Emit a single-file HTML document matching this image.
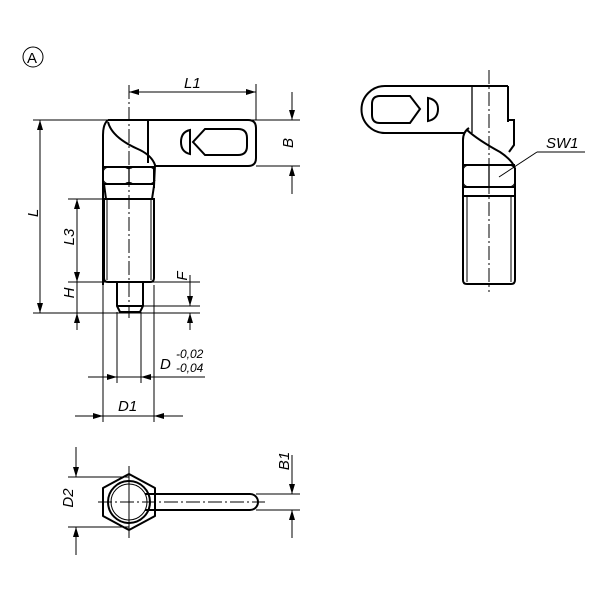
<!DOCTYPE html>
<html><head><style>
html,body{margin:0;padding:0;background:#fff;}
svg{display:block}
text{font-family:"Liberation Sans",sans-serif;font-style:italic;fill:#000}
</style></head><body>
<svg width="600" height="600" viewBox="0 0 600 600" xmlns="http://www.w3.org/2000/svg">
<defs>
<marker id="a" viewBox="0 0 10 6" refX="10" refY="3" markerWidth="10" markerHeight="6" orient="auto" markerUnits="userSpaceOnUse"><path d="M0,0 L10,3 L0,6 z" fill="#000"/></marker>
</defs>
<g fill="none" stroke="#000" stroke-width="1">
<circle cx="33" cy="57" r="10"/>
</g>
<text x="27" y="63" font-size="15" style="font-style:normal">A</text>

<!-- ===== Front view ===== -->
<g fill="none" stroke="#000" stroke-width="2">
 <path d="M108,120 L248,120 Q256,120 256,128 L256,158 Q256,166 248,166 L154,166"/>
 <path d="M108,120 Q103,124 103,135 L103,285"/>
 <line x1="148" y1="120" x2="148" y2="163"/>
 <path d="M108,122 Q112,138 140,150 Q152,156 155,165 L154,186"/>
 <path d="M205,129 L238,129 Q247,129 247,138 L247,146 Q247,155 238,155 L205,155 L193,142 Z"/>
 <path d="M190,130 Q181,132 181,142 Q181,152 190,154 Z"/>
 <line x1="103" y1="167" x2="155" y2="167"/>
 <line x1="103" y1="184" x2="155" y2="184"/>
 <line x1="154" y1="166" x2="154" y2="188"/>
 <path d="M104,184 L106,199 M154,186 L152,199"/>
 <path d="M104,199 L104,278 Q104,282 108,282 L150,282 Q154,282 154,278 L154,199 Z"/>
 <path d="M117,282 L117,306 L120,312 L140,312 L143,306 L143,282"/>
 <line x1="117" y1="306" x2="143" y2="306"/>
</g>
<g fill="none" stroke="#000" stroke-width="1.3">
 <line x1="129" y1="167" x2="129" y2="184"/>
 <path d="M103,171 Q105,167 109,167 M155,171 Q153,167 149,167 M103,180 Q105,184 109,184 M155,180 Q153,184 149,184 M125,167 Q129,170 133,167 M125,184 Q129,181 133,184"/>
</g>
<g fill="none" stroke="#000" stroke-width="1">
 <line x1="107" y1="200" x2="107" y2="280"/>
 <line x1="151" y1="200" x2="151" y2="280"/>
 <line x1="129" y1="85" x2="129" y2="318" stroke-dasharray="14,3,2,3"/>
 <line x1="256" y1="84" x2="256" y2="120"/>
 <line x1="33" y1="120" x2="300" y2="120"/>
 <line x1="256" y1="166" x2="300" y2="166"/>
 <line x1="68" y1="199" x2="104" y2="199"/>
 <line x1="68" y1="282" x2="200" y2="282"/>
 <line x1="33" y1="313" x2="200" y2="313"/>
 <line x1="143" y1="306" x2="200" y2="306"/>
 <line x1="103" y1="285" x2="103" y2="422"/>
 <line x1="117" y1="312" x2="117" y2="383"/>
 <line x1="141" y1="312" x2="141" y2="383"/>
 <line x1="154" y1="285" x2="154" y2="422"/>
 <!-- L1 -->
 <line x1="192" y1="92" x2="129" y2="92" marker-end="url(#a)"/>
 <line x1="192" y1="92" x2="256" y2="92" marker-end="url(#a)"/>
 <!-- B -->
 <line x1="292" y1="92" x2="292" y2="120" marker-end="url(#a)"/>
 <line x1="292" y1="194" x2="292" y2="166" marker-end="url(#a)"/>
 <!-- L -->
 <line x1="40" y1="217" x2="40" y2="120" marker-end="url(#a)"/>
 <line x1="40" y1="217" x2="40" y2="313" marker-end="url(#a)"/>
 <!-- L3 -->
 <line x1="77" y1="240" x2="77" y2="199" marker-end="url(#a)"/>
 <line x1="77" y1="240" x2="77" y2="282" marker-end="url(#a)"/>
 <!-- H -->
 <line x1="77" y1="282" x2="77" y2="313"/>
 <line x1="77" y1="330" x2="77" y2="313" marker-end="url(#a)"/>
 <!-- F -->
 <line x1="190" y1="275" x2="190" y2="306" marker-end="url(#a)"/>
 <line x1="190" y1="330" x2="190" y2="313" marker-end="url(#a)"/>
 <!-- D -->
 <line x1="88" y1="377" x2="117" y2="377" marker-end="url(#a)"/>
 <line x1="205" y1="377" x2="141" y2="377" marker-end="url(#a)"/>
 <line x1="117" y1="377" x2="141" y2="377"/>
 <!-- D1 -->
 <line x1="75" y1="416" x2="103" y2="416" marker-end="url(#a)"/>
 <line x1="183" y1="416" x2="154" y2="416" marker-end="url(#a)"/>
 <line x1="103" y1="416" x2="154" y2="416"/>
</g>
<g font-size="15">
 <text x="184" y="88">L1</text>
 <text x="288" y="148" transform="rotate(-90 288 143)" text-anchor="middle">B</text>
 <text x="37" y="222" transform="rotate(-90 33 217)" text-anchor="middle">L</text>
 <text x="73" y="246" transform="rotate(-90 69 241)" text-anchor="middle">L3</text>
 <text x="73" y="302" transform="rotate(-90 69 297)" text-anchor="middle">H</text>
 <text x="186" y="285" transform="rotate(-90 182 280)" text-anchor="middle">F</text>
 <text x="160" y="369">D</text>
 <text x="176" y="358" font-size="12">-0,02</text>
 <text x="176" y="372" font-size="12">-0,04</text>
 <text x="118" y="411">D1</text>
</g>

<!-- ===== Bottom view ===== -->
<g fill="none" stroke="#000" stroke-width="2">
 <path d="M129,474 L155,488 L155,516 L129,530 L103,516 L103,488 Z" stroke-linejoin="round"/>
 <circle cx="129" cy="502" r="21"/>
 <path d="M145,494 L250,494 A8,8 0 0 1 250,510 L145,510"/>
</g>
<g fill="none" stroke="#000" stroke-width="1">
 <circle cx="129" cy="502" r="18"/>
 <line x1="98" y1="502" x2="265" y2="502" stroke-dasharray="14,3,2,3"/>
 <line x1="129" y1="466" x2="129" y2="538"/>
 <line x1="68" y1="477" x2="129" y2="477"/>
 <line x1="68" y1="527" x2="129" y2="527"/>
 <line x1="76" y1="447" x2="76" y2="477" marker-end="url(#a)"/>
 <line x1="76" y1="555" x2="76" y2="527" marker-end="url(#a)"/>
 <line x1="256" y1="494" x2="300" y2="494"/>
 <line x1="256" y1="510" x2="300" y2="510"/>
 <line x1="292" y1="455" x2="292" y2="494" marker-end="url(#a)"/>
 <line x1="292" y1="538" x2="292" y2="510" marker-end="url(#a)"/>
</g>
<g font-size="15">
 <text x="72" y="507" transform="rotate(-90 68 502)" text-anchor="middle">D2</text>
 <text x="288" y="470" transform="rotate(-90 284 465)" text-anchor="middle">B1</text>
</g>

<!-- ===== Side view ===== -->
<g fill="none" stroke="#000" stroke-width="2">
 <path d="M508,86 L385,86 A23.5,23.5 0 0 0 385,133 L465,133"/>
 <path d="M508,86 L508,122"/>
 <path d="M380,96 L410,96 L420,109 L410,123 L380,123 Q372,123 372,115 L372,104 Q372,96 380,96 Z"/>
 <path d="M428,98 Q438,100 438,109 Q438,119 428,121 Z"/>
 <path d="M469,128 Q463,132 463,140 L463,280 Q463,284 467,284 L511,284 Q515,284 515,280 L515,168"/>
 <path d="M467,130 Q478,140 500,152 Q512,160 515,168"/>
 <path d="M508,120 L514,120 L514,145 L509,152"/>
 <line x1="463" y1="165" x2="515" y2="165"/>
 <line x1="463" y1="187" x2="515" y2="187"/>
 <line x1="463" y1="196" x2="515" y2="196"/>
</g>
<g fill="none" stroke="#000" stroke-width="1.3">
 <line x1="472" y1="86" x2="472" y2="133"/>
 <line x1="489" y1="165" x2="489" y2="187"/>
 <path d="M463,169 Q465,165 469,165 M515,169 Q513,165 509,165 M463,183 Q465,187 469,187 M515,183 Q513,187 509,187"/>
</g>
<g fill="none" stroke="#000" stroke-width="1">
 <line x1="467" y1="196" x2="467" y2="282"/>
 <line x1="511" y1="196" x2="511" y2="282"/>
 <line x1="489" y1="70" x2="489" y2="292" stroke-dasharray="14,3,2,3"/>
 <line x1="499" y1="177" x2="537" y2="152"/>
 <line x1="537" y1="152" x2="585" y2="152"/>
</g>
<text x="546" y="148" font-size="15">SW1</text>
</svg>
</body></html>
